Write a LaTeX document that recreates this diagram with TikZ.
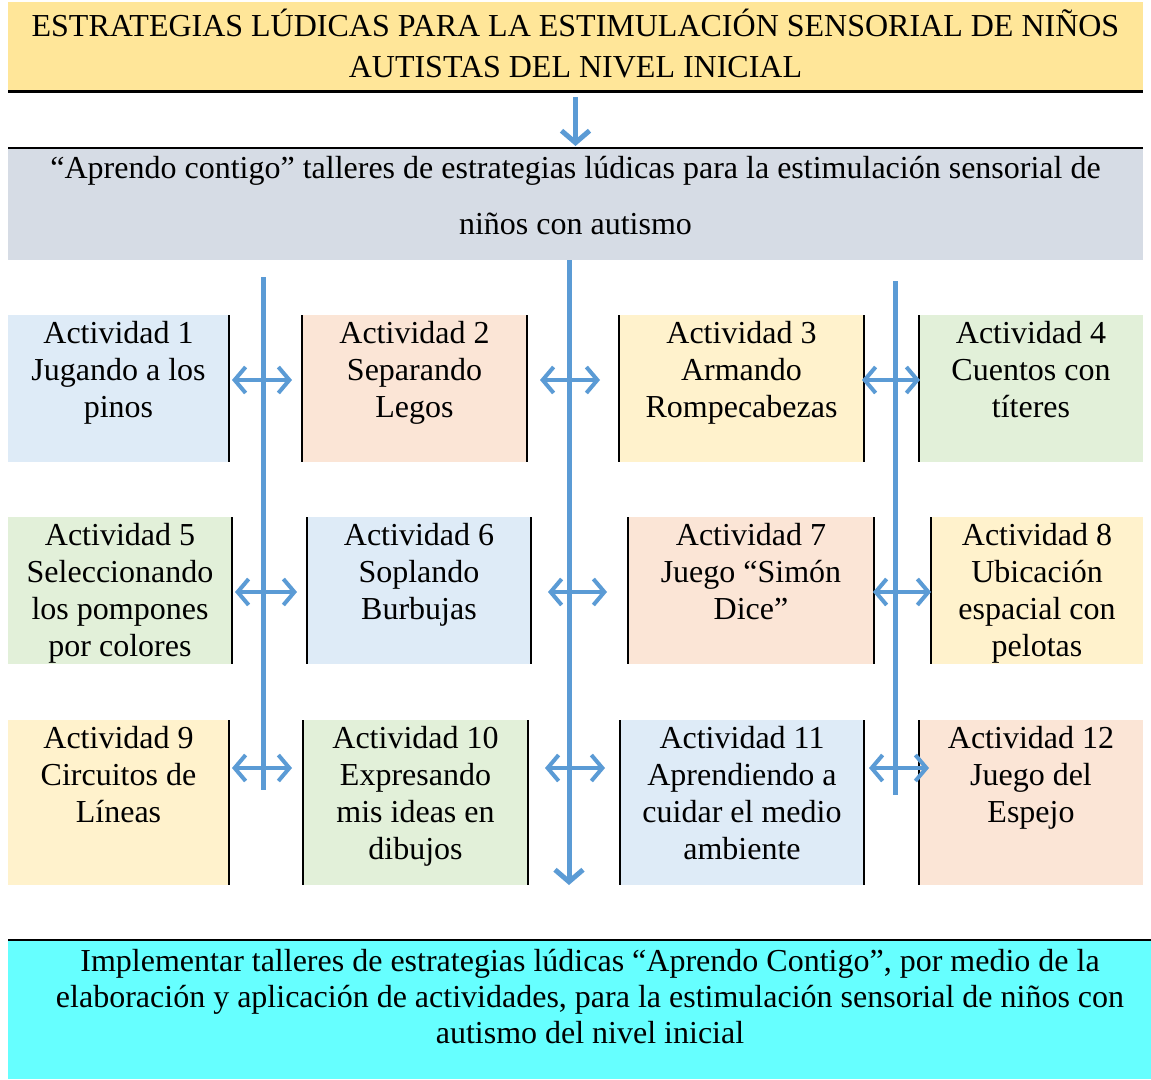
\documentclass[tikz,border=0pt]{standalone}
\usepackage{fontspec}
\setmainfont{Liberation Serif}
\usetikzlibrary{arrows.meta}
\definecolor{titlefill}{HTML}{FFE699}
\definecolor{grayfill}{HTML}{D6DCE5}
\definecolor{bluefill}{HTML}{DEEBF7}
\definecolor{peachfill}{HTML}{FBE5D6}
\definecolor{yellowfill}{HTML}{FFF2CC}
\definecolor{greenfill}{HTML}{E2F0D9}
\definecolor{cyanfill}{HTML}{66FFFF}
\definecolor{arrowblue}{HTML}{5B9BD5}
\newcommand\actbox[7]{%
  \node[panel, fill=#6, minimum width={#4-#2}, minimum height={#5-#3}] (#1) at (#2,#3) {};
  \node[boxtxt] (#1t) at ([yshift=-2pt]#1.north) {\strut #7};}
\begin{document}
\begin{tikzpicture}[x=1pt,y=-1pt,
  panel/.style={rectangle, draw=none, inner sep=0pt, outer sep=0pt, anchor=north west},
  boxtxt/.style={inner sep=0pt, anchor=north, align=center, font=\fontsize{32}{37}\selectfont},
  sideline/.style={line width=2pt, black},
  vline/.style={line width=5pt, arrowblue},
  downarrow/.style={line width=5pt, arrowblue, -{Straight Barb[length=12pt,width=28pt]}},
  dbl/.style={line width=4pt, arrowblue, {Straight Barb[length=11pt,width=26pt]}-{Straight Barb[length=11pt,width=26pt]}},
]
\useasboundingbox (0,0) rectangle (1151,1079);

% title
\node[panel, fill=titlefill, minimum width=1135, minimum height=89] (title) at (8,2) {};
\draw[line width=3pt, black] (title.south west) -- (title.south east);
\node[boxtxt, font=\fontsize{32}{41}\selectfont] (titlet) at (575.5,7.3)
  {\strut ESTRATEGIAS LÚDICAS PARA LA ESTIMULACIÓN SENSORIAL DE NIÑOS\\AUTISTAS DEL NIVEL INICIAL};

% gray box
\node[panel, fill=grayfill, minimum width=1135, minimum height=112] (gray) at (8,148) {};
\draw[line width=2pt, black] (gray.north west) -- (gray.north east);
\node[boxtxt, font=\fontsize{32}{56}\selectfont] (grayt) at (575.5,138.8)
  {\strut “Aprendo contigo” talleres de estrategias lúdicas para la estimulación sensorial de\\niños con autismo};

\draw[downarrow] ([yshift=-6pt]title.south) -- ([yshift=2pt]gray.north);

% activity boxes
\actbox{b1}{8}{315}{229}{462}{bluefill}{Actividad 1\\Jugando a los\\pinos}
\actbox{b2}{302}{315}{527}{462}{peachfill}{Actividad 2\\Separando\\Legos}
\actbox{b3}{619}{315}{864}{462}{yellowfill}{Actividad 3\\Armando\\Rompecabezas}
\actbox{b4}{919}{315}{1143}{462}{greenfill}{Actividad 4\\Cuentos con\\títeres}
\actbox{b5}{8}{517}{232}{664}{greenfill}{Actividad 5\\Seleccionando\\los pompones\\por colores}
\actbox{b6}{307}{517}{531}{664}{bluefill}{Actividad 6\\Soplando\\Burbujas}
\actbox{b7}{628}{517}{874}{664}{peachfill}{Actividad 7\\Juego “Simón\\Dice”}
\actbox{b8}{931}{517}{1143}{664}{yellowfill}{Actividad 8\\Ubicación\\espacial con\\pelotas}
\actbox{b9}{8}{720}{229}{885}{yellowfill}{Actividad 9\\Circuitos de\\Líneas}
\actbox{b10}{303}{720}{528}{885}{greenfill}{Actividad 10\\Expresando\\mis ideas en\\dibujos}
\actbox{b11}{620}{720}{864}{885}{bluefill}{Actividad 11\\Aprendiendo a\\cuidar el medio\\ambiente}
\actbox{b12}{919}{720}{1143}{885}{peachfill}{Actividad 12\\Juego del\\Espejo}

% black side lines
\foreach \b in {b1,b2,b3,b5,b6,b7,b9,b10,b11}
  \draw[sideline] (\b.north east) -- (\b.south east);
\foreach \b in {b2,b3,b4,b6,b7,b8,b10,b11,b12}
  \draw[sideline] (\b.north west) -- (\b.south west);

% vertical blue lines
\coordinate (v1top) at (263,277);
\coordinate (v1bot) at (263,790);
\coordinate (v3top) at (895,281);
\coordinate (v3bot) at (895,795);
\coordinate (v2bot) at (569,885);
\draw[vline] (v1top) -- (v1bot);
\draw[vline] (v3top) -- (v3bot);
\draw[downarrow] (gray.south -| v2bot) -- (v2bot);

% double arrows
\coordinate (r1a) at (232,380); \coordinate (r1b) at (292,380);
\coordinate (r1c) at (540,380); \coordinate (r1d) at (600,380);
\coordinate (r1e) at (862,380); \coordinate (r1f) at (920,380);
\coordinate (r2a) at (235,592); \coordinate (r2b) at (297,592);
\coordinate (r2c) at (548,592); \coordinate (r2d) at (607,592);
\coordinate (r2e) at (873,592); \coordinate (r2f) at (931,592);
\coordinate (r3a) at (232,768); \coordinate (r3b) at (292,768);
\coordinate (r3c) at (545,768); \coordinate (r3d) at (605,768);
\coordinate (r3e) at (869,768); \coordinate (r3f) at (929,768);
\foreach \p/\q in {r1a/r1b,r1c/r1d,r1e/r1f,r2a/r2b,r2c/r2d,r2e/r2f,r3a/r3b,r3c/r3d,r3e/r3f}
  \draw[dbl] (\p) -- (\q);

% bottom box
\node[panel, fill=cyanfill, minimum width=1143, minimum height=139] (goal) at (8,940) {};
\draw[line width=2pt, black] (goal.north west) -- (goal.north east);
\node[boxtxt, font=\fontsize{32}{36}\selectfont] (goalt) at (590,946)
  {\strut Implementar talleres de estrategias lúdicas “Aprendo Contigo”, por medio de la\\elaboración y aplicación de actividades, para la estimulación sensorial de niños con\\autismo del nivel inicial};
\end{tikzpicture}
\end{document}
